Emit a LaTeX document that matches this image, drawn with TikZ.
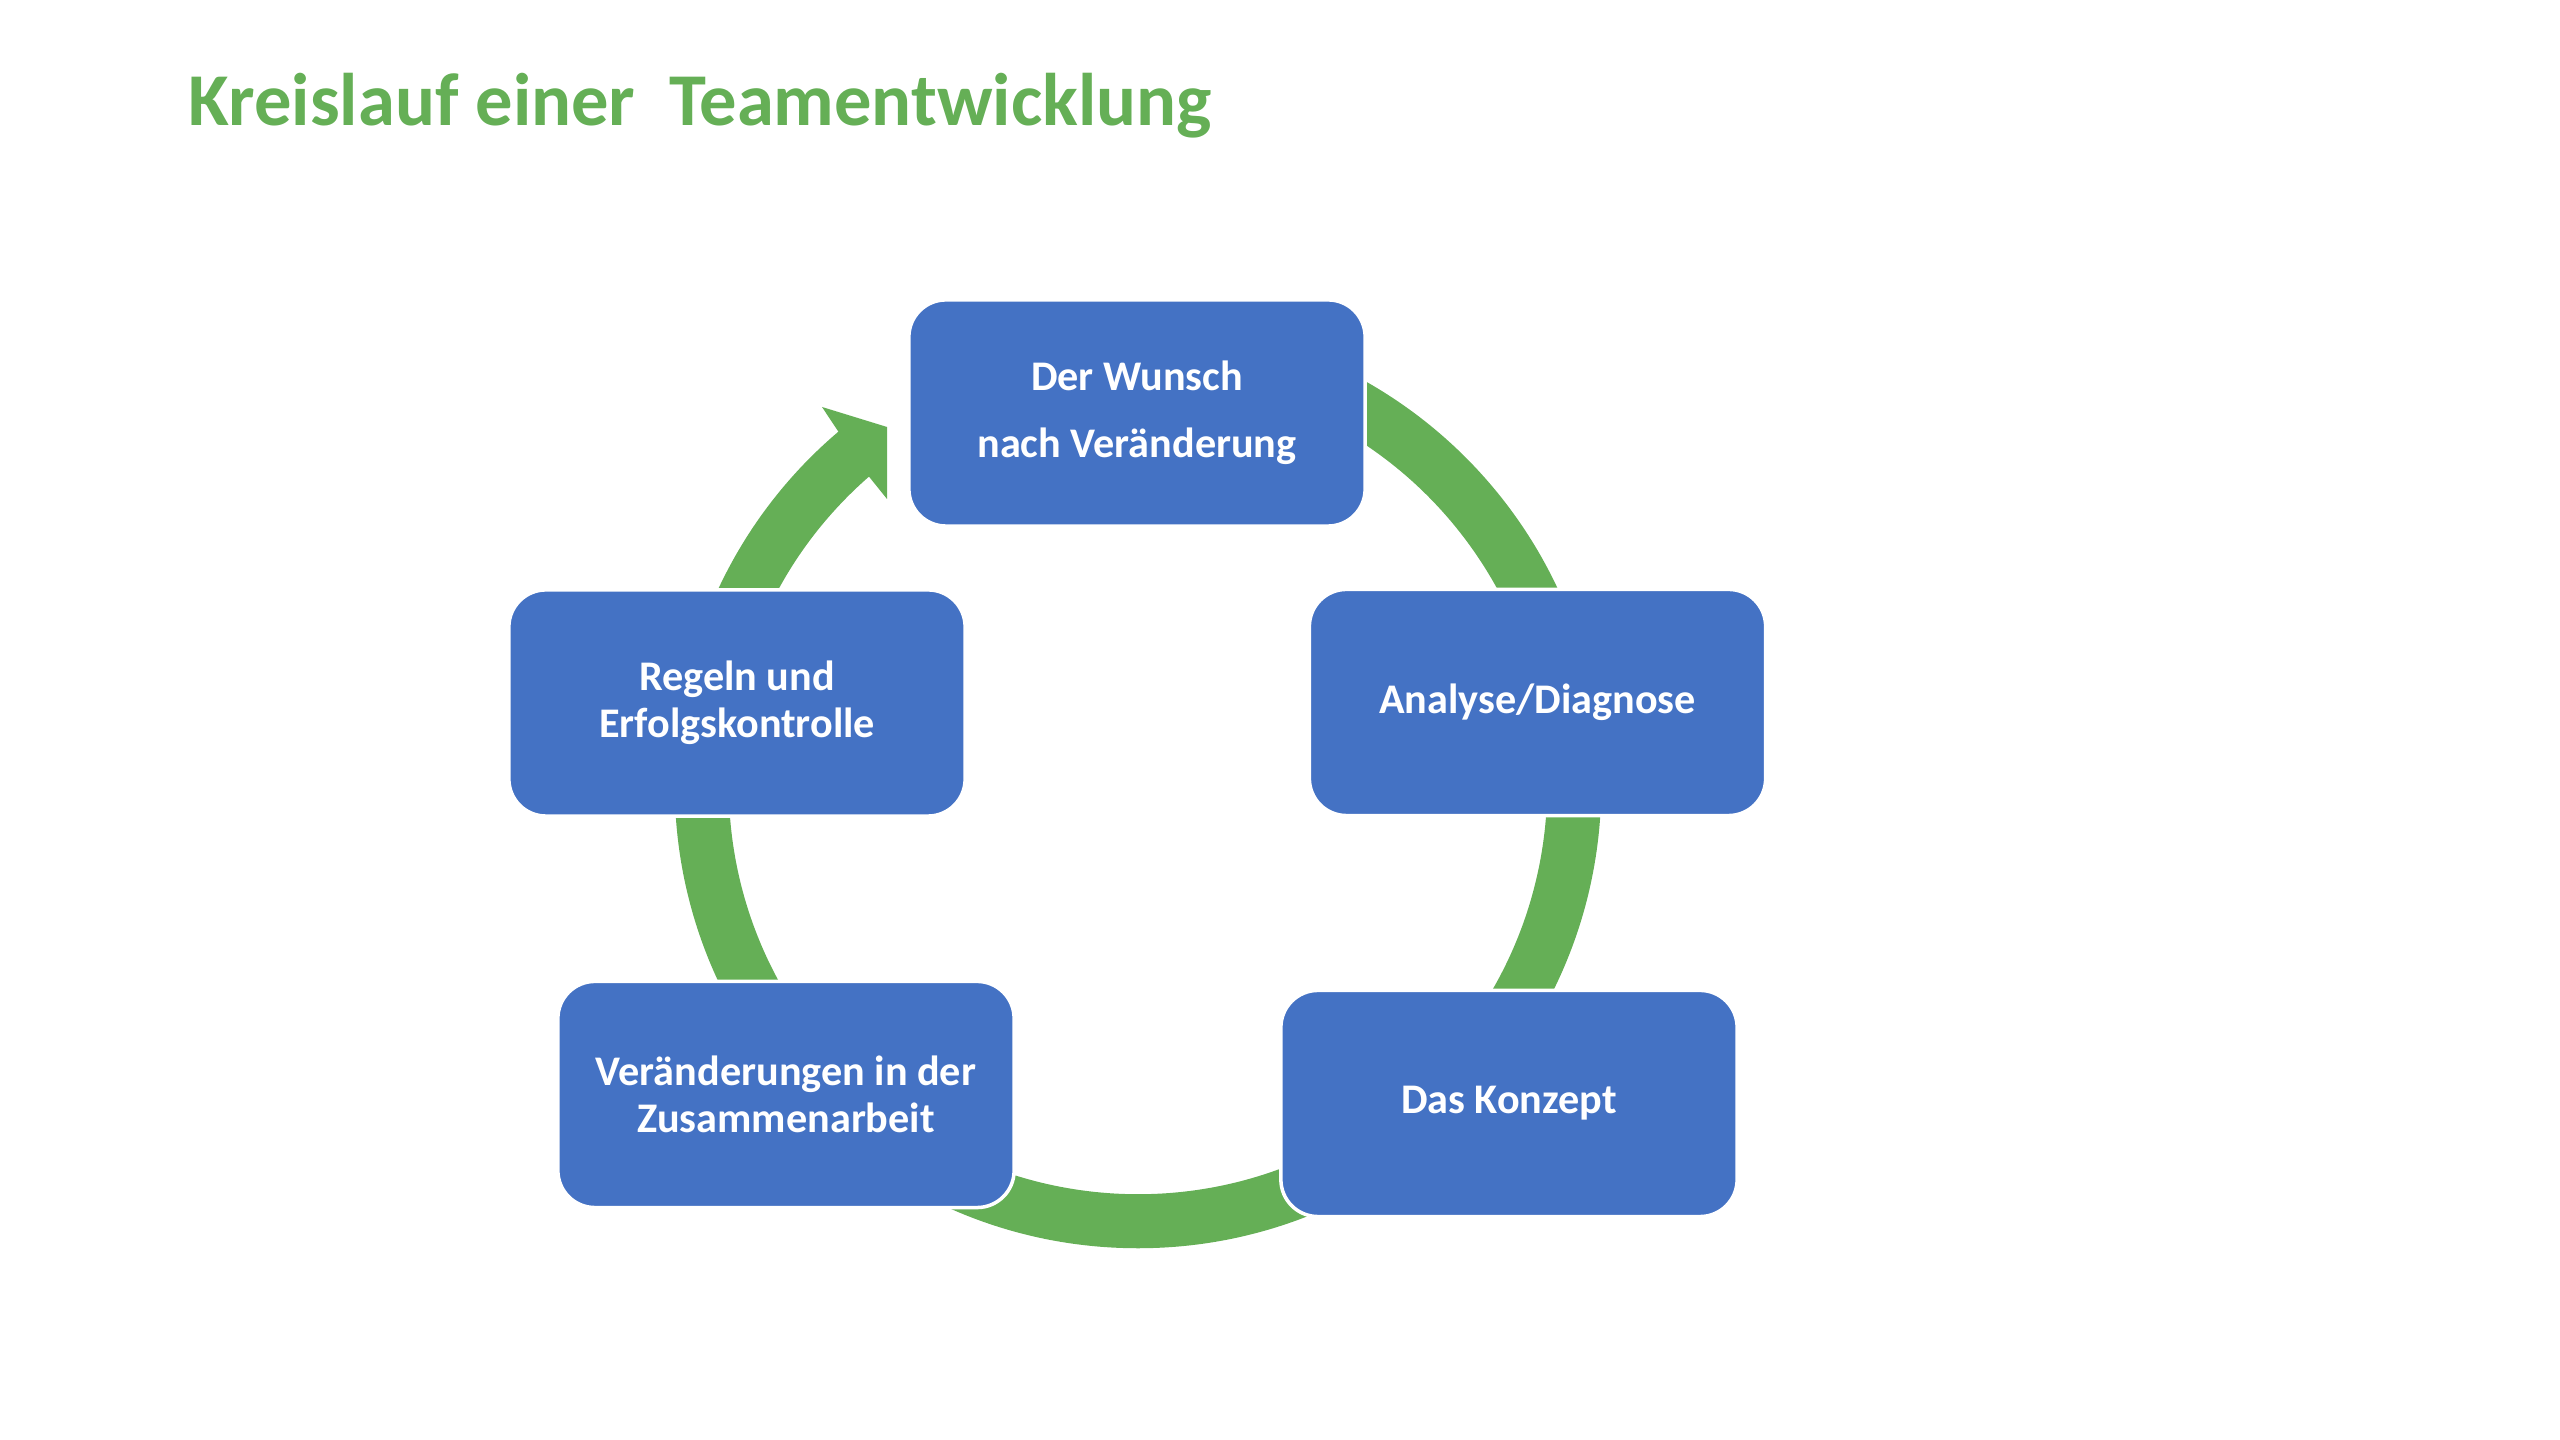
\documentclass[tikz,border=0pt]{standalone}
\usepackage{fontspec}
\setmainfont{Carlito}
\usepackage{xcolor}
\definecolor{cycleblue}{RGB}{68,114,196}
\definecolor{cyclegreen}{RGB}{101,175,86}
\tikzset{
	block/.style={
		rectangle,
		align=center,
		fill=cycleblue,
		draw=white,
		line width=1pt,
		text=white,
		font=\bfseries\fontsize{12}{13.5}\selectfont,
		minimum width=4.56cm,
		minimum height=2.26cm,
		inner sep=0pt,
		rounded corners=.37cm
	},
	ring/.style={fill=cyclegreen}
}

\begin{document}
\begin{tikzpicture}[x=0.01cm, y=0.01cm]
			\useasboundingbox (0,0) rectangle (2560,1440);
			\coordinate (Center) at (1138,655);
			
			\fill[ring] ([shift={(Center)}]90:4.63cm) arc[start angle=90, end angle=-229.7, radius=4.63cm] -- (822,1033) -- (887,1013) -- (887,941) -- ([shift={(Center)}]131.1:4.09cm) arc[start angle=-228.9, end angle=90, radius=4.09cm] -- cycle;
			
			\draw node[block](Wunsch) at (1137,1027){Der Wunsch\\[5.5pt]nach Veränderung};
			\draw node[block](Analyse) at (1537.5,737.5){Analyse/Diagnose};
			\draw node[block](Konzept) at (1509,336.5){Das Konzept};
			\draw node[block](Zusammenarbeit) at (786,345.5){Veränderungen in der\\Zusammenarbeit};
			\draw node[block](Regeln) at (737,737){Regeln und\\Erfolgskontrolle};
			
			\draw node[anchor=base west, inner sep=0pt, text=cyclegreen, font=\bfseries\fontsize{21.2}{25}\selectfont](Titel) at (188,1314){Kreislauf einer\ \ Teamentwicklung};
		\end{tikzpicture}
\end{document}
